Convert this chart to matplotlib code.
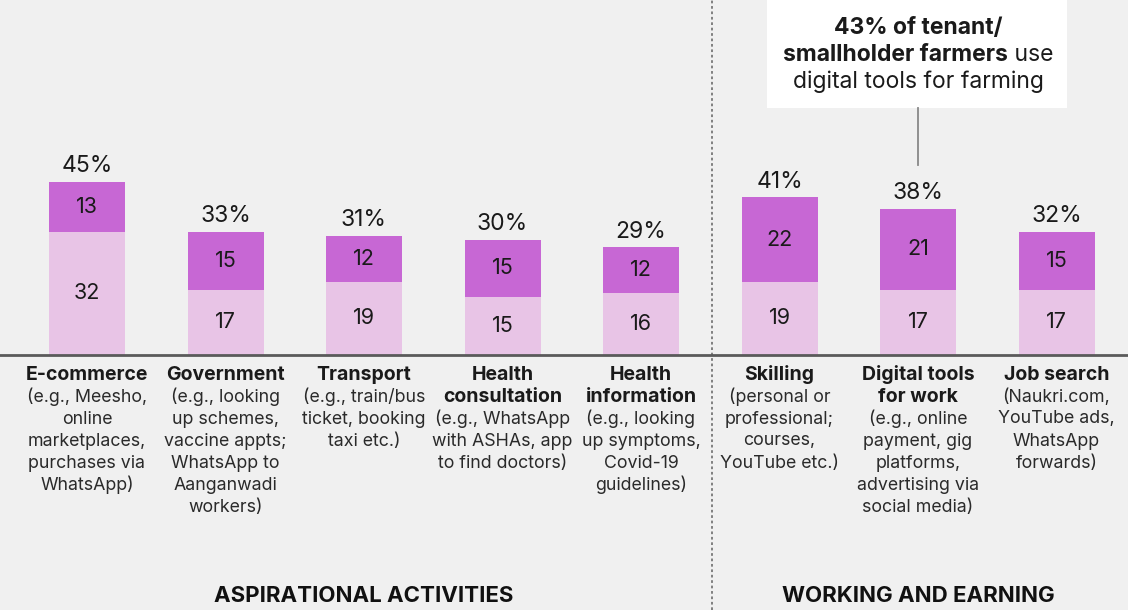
import matplotlib.pyplot as plt

plt.rcParams['font.family'] = ['Inter', 'DejaVu Sans']

# Share of respondents, split into two segments per activity
titles = ["E-commerce", "Government", "Transport", "Health\nconsultation",
          "Health\ninformation", "Skilling", "Digital tools\nfor work", "Job search"]
details = [
    "(e.g., Meesho,\nonline\nmarketplaces,\npurchases via\nWhatsApp)",
    "(e.g., looking\nup schemes,\nvaccine appts;\nWhatsApp to\nAanganwadi\nworkers)",
    "(e.g., train/bus\nticket, booking\ntaxi etc.)",
    "(e.g., WhatsApp\nwith ASHAs, app\nto find doctors)",
    "(e.g., looking\nup symptoms,\nCovid-19\nguidelines)",
    "(personal or\nprofessional;\ncourses,\nYouTube etc.)",
    "(e.g., online\npayment, gig\nplatforms,\nadvertising via\nsocial media)",
    "(Naukri.com,\nYouTube ads,\nWhatsApp\nforwards)",
]
totals = [45, 33, 31, 30, 29, 41, 38, 32]
lower = [32, 17, 19, 15, 16, 19, 17, 17]
upper = [13, 15, 12, 15, 12, 22, 21, 15]
groups = ["ASPIRATIONAL ACTIVITIES", "WORKING AND EARNING"]

BG = "#f0f0f0"
LIGHT = "#e8c4e6"
DARK = "#c767d4"
TXT = "#1a1a1a"

W, H = 1128, 610
fig = plt.figure(figsize=(W / 100, H / 100), dpi=100, facecolor=BG)
ax = fig.add_axes([0, 0, 1, 1], facecolor=BG)

# map category index -> pixel x, value -> pixel y
x0, step = 87, 138.5
base_px, ppu = 355, 3.85
ax.set_xlim(-x0 / step, (W - x0) / step)
ax.set_ylim(-(H - base_px) / ppu, base_px / ppu)
ax.axis("off")

def px_y(p):
    # pixel row from top -> data y
    return (base_px - p) / ppu

xs = list(range(len(titles)))
bw = 76 / step
ax.bar(xs, lower, width=bw, color=LIGHT, zorder=2)
ax.bar(xs, upper, bottom=lower, width=bw, color=DARK, zorder=2)

for i in xs:
    ax.text(i, lower[i] / 2, str(lower[i]), ha="center", va="center",
            fontsize=15.5, color=TXT, zorder=3)
    ax.text(i, lower[i] + upper[i] / 2, str(upper[i]), ha="center", va="center",
            fontsize=15.5, color=TXT, zorder=3)
    ax.text(i, lower[i] + upper[i] + 1.2, f"{totals[i]}%", ha="center",
            va="bottom", fontsize=16.5, color=TXT, zorder=3)

    # category title (bold) then description, one line every 22 px
    row = 375
    for line in titles[i].split("\n"):
        ax.text(i, px_y(row), line, ha="center", va="center", fontsize=14,
                fontweight="bold", color=TXT)
        row += 22
    for line in details[i].split("\n"):
        ax.text(i, px_y(row), line, ha="center", va="center", fontsize=12.8,
                color="#2a2a2a")
        row += 22

# baseline and divider
ax.axhline(0, color="#5a5a5a", lw=2, zorder=4)
ax.axvline(4.5 + 2 / step, color="#777777", lw=1.3, ls=(0, (1.5, 1.5)), zorder=1)

ax.text(2, px_y(596), groups[0], ha="center", va="center", fontsize=16,
        fontweight="bold", color="#111111")
ax.text(6, px_y(596), groups[1], ha="center", va="center", fontsize=16,
        fontweight="bold", color="#111111")

# callout box for farming
bx0, bx1 = (767 - x0) / step, (1067 - x0) / step
ax.fill_between([bx0, bx1], px_y(108), px_y(-5), color="white", zorder=5, lw=0)
ax.plot([6, 6], [px_y(108), px_y(165)], color="#888888", lw=1.3, zorder=5)

fs = 16.5
ax.text(6, px_y(28), "43% of tenant/", ha="center", va="center", fontsize=fs,
        fontweight="bold", color=TXT, zorder=6)
ax.text(6, px_y(82), "digital tools for farming", ha="center", va="center",
        fontsize=fs, color=TXT, zorder=6)

# second line mixes bold and regular, so measure both pieces
r = fig.canvas.get_renderer()
t1 = ax.text(0, 0, "smallholder farmers", fontsize=fs, fontweight="bold")
t2 = ax.text(0, 0, " use", fontsize=fs)
w1 = t1.get_window_extent(r).width
w2 = t2.get_window_extent(r).width
t1.remove()
t2.remove()
cx = x0 + 6 * step
left_px = cx - (w1 + w2) / 2
ax.text((left_px - x0) / step, px_y(55), "smallholder farmers", ha="left",
        va="center", fontsize=fs, fontweight="bold", color=TXT, zorder=6)
ax.text((left_px + w1 - x0) / step, px_y(55), " use", ha="left", va="center",
        fontsize=fs, color=TXT, zorder=6)

fig.savefig("out.png", dpi=100, facecolor=BG)
